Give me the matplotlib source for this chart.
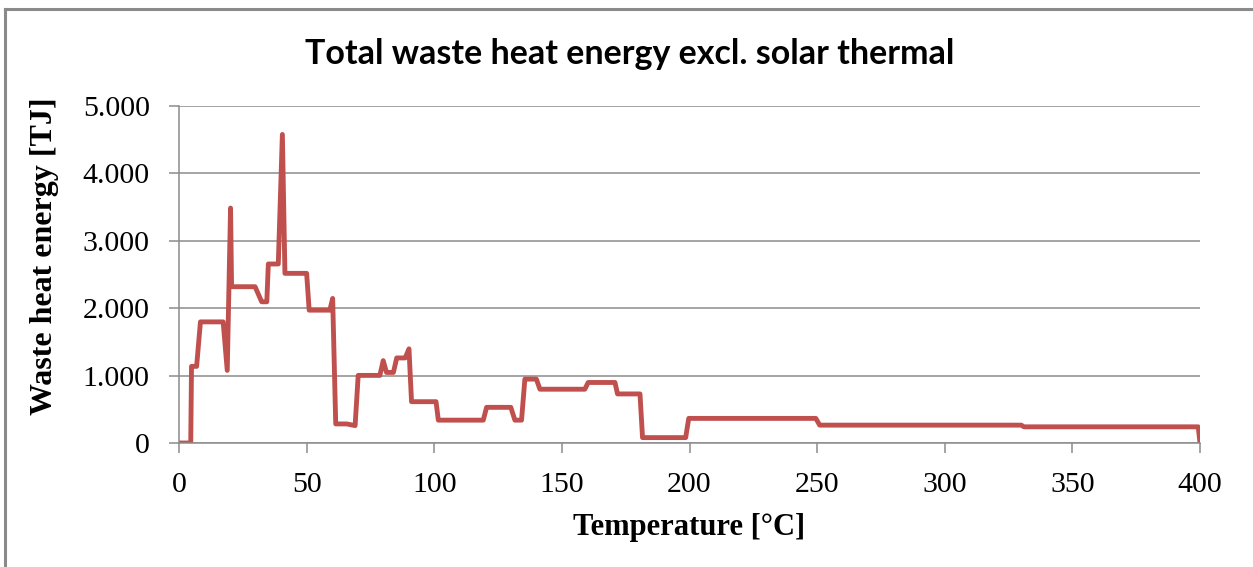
import matplotlib
matplotlib.use("Agg")
import matplotlib.pyplot as plt
from matplotlib.ticker import FuncFormatter
from matplotlib.lines import Line2D

# temperature breakpoints [°C] and waste heat energy [TJ]
temperature = [0, 4.6, 4.9, 6.9, 8.4, 17.3, 18.9, 20.2, 20.6, 29.8, 32.4, 34.4, 35.0,
               38.9, 40.5, 41.5, 50, 51, 59.1, 60.2, 61.4, 65.7, 69, 70.2, 78.7, 80,
               81.3, 84, 85.3, 88.6, 90.1, 91.1, 100.7, 101.6, 119.2, 120.5, 130,
               131.6, 134.2, 135.5, 140, 141.4, 159, 160.3, 170.8, 171.8, 180.6, 181.6,
               198.5, 199.7, 249.5, 251, 330, 331, 399.3, 400]
energy = [0, 0, 1137, 1137, 1797, 1797, 1077, 3486, 2319, 2319, 2095, 2095, 2656,
          2656, 4578, 2517, 2517, 1971, 1971, 2145, 283, 283, 258, 1003, 1003, 1222,
          1047, 1047, 1262, 1262, 1397, 613, 613, 339, 339, 529, 529, 339, 339, 948,
          948, 798, 798, 898, 898, 728, 728, 80, 80, 365, 365, 265, 265, 240, 240, 0]

x_ticks = [0, 50, 100, 150, 200, 250, 300, 350, 400]
y_ticks = [0, 1000, 2000, 3000, 4000, 5000]

serif = ['Liberation Serif', 'DejaVu Serif']
fig = plt.figure(figsize=(12.53, 5.67), dpi=100)
ax = fig.add_axes([179/1253, 124/567, 1021/1253, 337/567])

ax.plot(temperature, energy, color='#C0504D', lw=3.5, solid_joinstyle='round')

ax.set_xlim(0, 400)
ax.set_ylim(0, 5000)
ax.set_xticks(x_ticks)
ax.set_yticks(y_ticks)
ax.yaxis.set_major_formatter(FuncFormatter(lambda v, p: f"{int(v):,}".replace(',', '.')))
ax.grid(axis='y', color='#8c8c8c', lw=1.1)
ax.set_axisbelow(True)
for s in ['top', 'right']:
    ax.spines[s].set_visible(False)
for s in ['left', 'bottom']:
    ax.spines[s].set_color('#8c8c8c')
    ax.spines[s].set_linewidth(1.1)
ax.tick_params(length=7, width=1.1, color='#8c8c8c', direction='out')
ax.tick_params(axis='y', pad=14)
ax.tick_params(axis='x', pad=14)
for lab in ax.get_xticklabels() + ax.get_yticklabels():
    lab.set_family(serif)
    lab.set_fontsize(21.5)

ax.set_xlabel('Temperature [°C]', family=serif, fontsize=22, fontweight='bold')
ax.set_ylabel('Waste heat energy [TJ]', family=serif, fontsize=23, fontweight='bold')
ax.xaxis.set_label_coords(0.5, -(527 - 443) / 337, transform=ax.transAxes)
ax.yaxis.set_label_coords(-(179 - 45) / 1021, (443 - 256) / 337)
ax.xaxis.label.set_va('center')
ax.yaxis.label.set_va('center')

fig.text(630/1253, 1 - 54/567, 'Total waste heat energy excl. solar thermal',
         family=['Lato', 'DejaVu Sans'], fontweight='bold',
         fontsize=24.5, ha='center', va='center')

# chart frame (top and left edges visible)
fig.add_artist(Line2D([5/1253, 1], [1 - 9/567, 1 - 9/567], color='#8a8a8a', lw=2.2))
fig.add_artist(Line2D([5/1253, 5/1253], [0, 1 - 9/567], color='#8a8a8a', lw=2.2))

fig.savefig('out.png', dpi=100)
